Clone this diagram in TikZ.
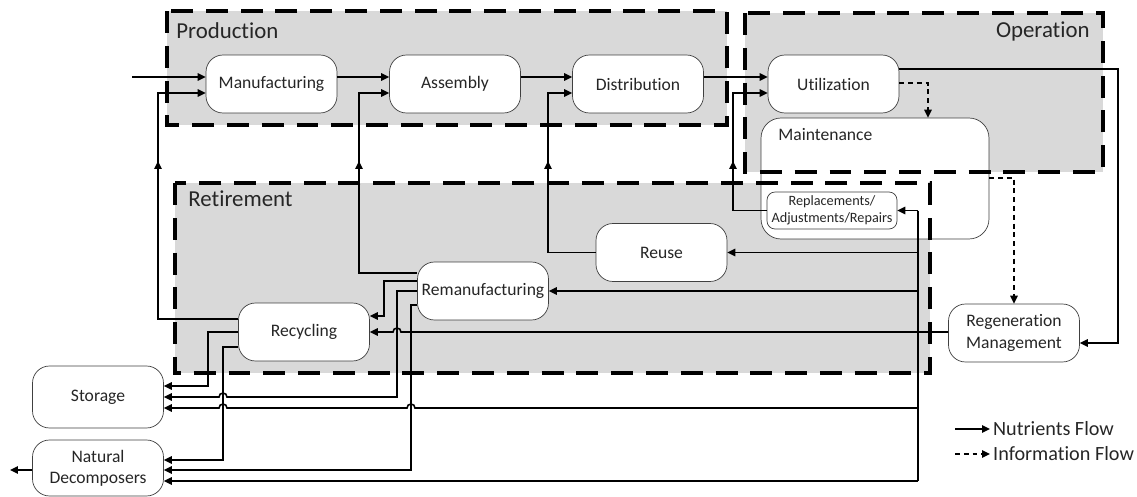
\documentclass[tikz,border=0pt]{standalone}
\usepackage{fontspec}
\setmainfont{Carlito}[Ligatures=NoCommon]
\usetikzlibrary{arrows.meta}

\definecolor{regiongray}{HTML}{D9D9D9}
\tikzset{
  stage/.style={draw=black!75, fill=white, rounded corners=.34cm, minimum width=2.62cm,
    minimum height=1.16cm, align=center, inner sep=1pt, text=black!85,
    font=\fontsize{10}{12}\selectfont},
  region/.style={fill=regiongray},
  regionline/.style={line width=1.9pt, dash pattern=on 12.5pt off 7.3pt},
  regionlbl/.style={text=black!85, inner sep=0pt, font=\fontsize{13}{15}\selectfont},
  flow/.style={line width=.9pt, -{Triangle[length=1.6mm,width=1.5mm]}},
  info/.style={flow, dash pattern=on 2.8pt off 2.2pt},
  wire/.style={line width=.9pt},
  legendlbl/.style={anchor=west, inner sep=1.6pt, text=black!85, font=\fontsize{11.5}{13}\selectfont},
}

\begin{document}
\begin{tikzpicture}[x=.02cm, y=-.02cm]
  \useasboundingbox (0,0) rectangle (1137,497);

  % life cycle phases
  \fill[region] (167,11) rectangle (727,125);
  \fill[region] (745,13) rectangle (1103,172);
  \fill[region] (175,183) rectangle (930,373);
  \node[regionlbl, anchor=west] (prodlbl) at (176,31) {Production};
  \node[regionlbl, anchor=east] (operlbl) at (1090,31) {Operation};
  \node[regionlbl, anchor=west] (retilbl) at (188,199) {Retirement};

  % stages
  \node[stage] (manu) at (271.5,84) {Manufacturing};
  \node[stage] (asm) at (455,84) {Assembly};
  \node[stage] (dist) at (638,84) {Distribution};
  \node[stage] (util) at (833.5,84) {Utilization};
  \node[stage, minimum width=4.56cm, minimum height=2.42cm, rounded corners=.4cm] (maint) at (875,178.5) {};
  \node[anchor=west, inner sep=0pt, text=black!85, font=\fontsize{10}{12}\selectfont] (maintlbl) at (778,135) {Maintenance};
  \node[stage, minimum width=2.6cm, minimum height=.74cm, rounded corners=.16cm, inner sep=0pt,
    font=\fontsize{8.1}{9.6}\selectfont] (repl) at (832,210.5) {Replacements/\\Adjustments/Repairs};
  \node[stage] (reuse) at (661.5,252.5) {Reuse};
  \node[stage] (rem) at (483,291) {Remanufacturing};
  \node[stage] (recyc) at (304,332) {Recycling};
  \node[stage, minimum height=1.24cm] (stor) at (98,397) {Storage};
  \node[stage, minimum height=1.12cm] (nd) at (98,468) {Natural\\Decomposers};
  \node[stage] (regen) at (1014,333) {Regeneration\\Management};

  % phase borders
  \draw[regionline] (167,11) rectangle (727,125);
  \draw[regionline] (745,13) rectangle (1103,172);
  \draw[regionline] (175,183) rectangle (930,373);

  % forward flow
  \coordinate (src) at (132,77);
  \draw[flow] (src) -- (manu.west |- src);
  \draw[flow] (manu.east |- 0,77) -- (asm.west |- 0,77);
  \draw[flow] (asm.east |- 0,77) -- (dist.west |- 0,77);
  \draw[flow] (dist.east |- 0,77) -- (util.west |- 0,77);
  \draw[flow] (util.east |- 0,69) -- (1118,69) |- (regen.east |- 0,343);
  \draw[info] (util.east |- 0,83) -| (maint.north -| 928,0);
  \draw[info] (maint.east |- 0,178) -| (regen.north);

  % return loops
  \draw[flow] (recyc.west |- 0,319) -| (158,161);
  \draw[flow] (158,163) |- (manu.west |- 0,93);
  \draw[flow] (rem.west |- 0,273) -| (359,161);
  \draw[flow] (359,163) |- (asm.west |- 0,93);
  \draw[flow] (reuse.west) -| (548,161);
  \draw[flow] (548,163) |- (dist.west |- 0,93);
  \draw[flow] (repl.west) -| (733,161);
  \draw[flow] (733,163) |- (util.west |- 0,93);

  % regeneration bus
  \coordinate (bustop) at (918,210.5);
  \coordinate (busbot) at (918,481);
  \draw[wire] (bustop) -- (busbot);
  \draw[flow] (bustop) -- (repl.east);
  \draw[flow] (bustop |- reuse.east) -- (reuse.east);
  \draw[flow] (bustop |- rem.east) -- (rem.east);
  \draw[flow] (regen.west |- 0,332) -- (401,332) arc[start angle=0, end angle=-180, radius=4] -- (recyc.east);
  \draw[flow] (918,408) -- (415,408) arc[start angle=0, end angle=-180, radius=4]
    -- (227,408) arc[start angle=0, end angle=-180, radius=4] -- (stor.east |- 0,408);
  \draw[flow] (busbot) -- (nd.east |- busbot);

  % retirement outputs
  \draw[flow] (rem.west |- 0,281) -| (384,316) -- (recyc.east |- 0,316);
  \draw[flow] (rem.west |- 0,291) -| (397,397) -- (227,397) arc[start angle=0, end angle=-180, radius=4]
    -- (stor.east |- 0,397);
  \draw[flow] (rem.west |- 0,305) -| (411,470) -- (nd.east |- 0,470);
  \draw[flow] (recyc.west) -| (208,386) -- (stor.east |- 0,386);
  \draw[flow] (recyc.west |- 0,347) -| (223,460) -- (nd.east |- 0,460);
  \coordinate (sink) at (10,470);
  \draw[flow] (nd.west |- sink) -- (sink);

  % legend
  \node[legendlbl] (nflbl) at (990,429) {Nutrients Flow};
  \node[legendlbl] (iflbl) at (990,454) {Information Flow};
  \coordinate (nfa) at (955,429);
  \coordinate (ifa) at (955,454);
  \draw[flow] (nfa) -- (nflbl.west);
  \draw[info] (ifa) -- (iflbl.west);
\end{tikzpicture}
\end{document}
